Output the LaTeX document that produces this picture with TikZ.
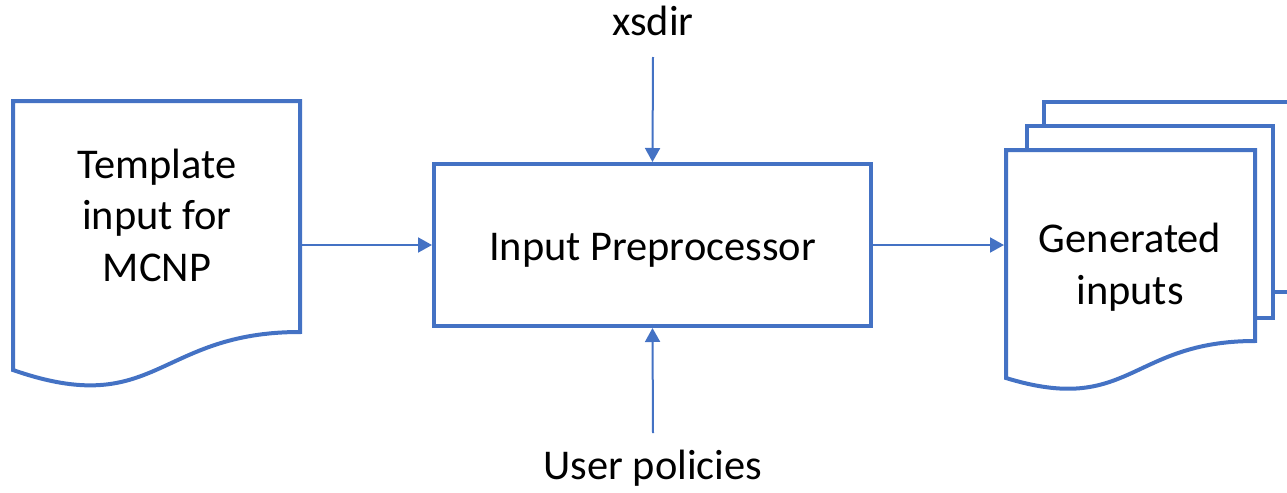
\documentclass[tikz,border=0pt]{standalone}
\usepackage{fontspec}
\setmainfont{Carlito}
\usetikzlibrary{arrows.meta}
\definecolor{ob}{HTML}{4472C4}
\begin{document}
\begin{tikzpicture}[x=0.5pt,y=-0.5pt,
  shp/.style={draw=ob,line width=2pt,line join=miter},
  conn/.style={draw=ob,line width=1pt,-{Triangle[length=7pt,width=7.5pt]}},
  lbl/.style={font=\fontsize{21.2}{25.75}\selectfont,align=center,inner sep=0pt,text=black}]
\path[use as bounding box] (0,0) rectangle (1287,493);
\clip (0,0) rectangle (1287,493);
% template document
\node[minimum width=143.5pt,minimum height=144pt,inner sep=0pt,outer sep=1pt] (tdoc) at (156.5,245) {};
\draw[shp] (13,101) -- (300,101) -- (300,332) .. controls (156.5,332) and (156.5,420) .. (13,370) -- cycle;
\node[lbl] (ttxt) at (157,215) {Template\\input for\\MCNP};
% preprocessor
\node[shp,minimum width=218.5pt,minimum height=81pt,inner sep=0pt] (pre) at (652.5,245) {};
\node[lbl,anchor=base] (pretxt) at (652.5,260) {Input Preprocessor};
% generated inputs (multidocument)
\node[minimum width=148pt,minimum height=143pt,inner sep=0pt,outer sep=0pt] (gen) at (1152,245) {};
\draw[shp] (1044,126) -- (1044,102) -- (1300,102) -- (1300,292) -- (1273,292);
\draw[shp] (1027,150) -- (1027,126) -- (1273,126) -- (1273,318) -- (1255,318);
\draw[shp,fill=white] (1006,150) -- (1255,150) -- (1255,341) .. controls (1130,341) and (1130,416) .. (1006,378) -- cycle;
\node[lbl] (gtxt) at (1130,267) {Generated\\inputs};
% side inputs
\node[lbl,anchor=base] (xs) at (653,35) {xsdir};
\coordinate (xsend) at (653,57);
\node[lbl,anchor=base] (up) at (653,479) {User policies};
\coordinate (upend) at (653,433);
% connectors
\draw[conn] (xsend) -- (pre.north);
\draw[conn] (upend) -- (pre.south);
\draw[conn] (tdoc.east) -- (pre.west);
\draw[conn] (pre.east) -- (gen.west);
\end{tikzpicture}
\end{document}
